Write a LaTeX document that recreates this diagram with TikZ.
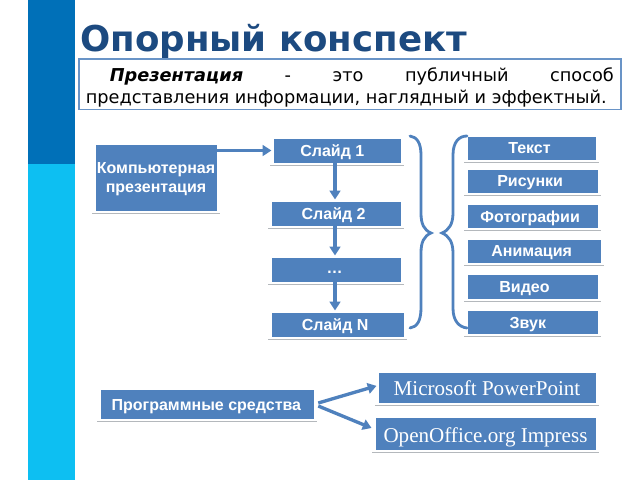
\documentclass[tikz,border=0pt]{standalone}
\usepackage{fontspec}
\setmainfont{Liberation Sans}
\newfontfamily\dejafont{DejaVu Sans}
\newfontfamily\serifont{Liberation Serif}
\usetikzlibrary{arrows.meta}
\definecolor{boxblue}{HTML}{4F81BD}
\definecolor{sidedark}{HTML}{0070B8}
\definecolor{sidelight}{HTML}{0DBFF2}
\definecolor{titleblue}{HTML}{1C4A80}
\definecolor{shadowgrey}{HTML}{B4B8BC}
\tikzset{
  sbox/.style={fill=boxblue,draw=white,line width=0.4pt,inner sep=0pt,text=white,align=center,text depth=0pt,
    font=\fontsize{12}{14.25}\selectfont\bfseries},
  sserif/.style={font=\fontsize{15.8}{18}\serifont},
  under/.style={draw=shadowgrey,line width=1.2pt},
  arr/.style={draw=boxblue,line width=2.5pt,shorten >=1pt,-{Triangle[length=6.5pt,width=8pt]}},
  bracel/.style={draw=boxblue,line width=2.1pt,line cap=round},
}
% \bx[style]{name}{x0}{y0}{x1}{y1}{text offset}{text}
\newcommand{\bx}[8][]{%
  \node[sbox,#1,minimum width={(#5-#3)*0.75pt},minimum height={(#6-#4)*0.75pt}] (#2)
    at ({(#3+#5)/2},{(#4+#6)/2}) {\hspace*{#7pt}#8};
  \draw[under] ([shift={(-2.5,2.2)}]#2.south west) -- ([shift={(2.5,2.2)}]#2.south east);
}
\begin{document}
\begin{tikzpicture}[x=0.75pt,y=-0.75pt]
\useasboundingbox (0,0) rectangle (640,480);
\fill[white] (0,0) rectangle (640,480);
\fill[sidedark] (28,0) rectangle (75,164);
\fill[sidelight] (28,164) rectangle (75,480);
\node[anchor=west,inner sep=0pt,text=titleblue,font=\fontsize{26.7}{30}\dejafont\bfseries] (title) at (80,42) {Опорный конспект};
\node[draw=boxblue!85,line width=1.2pt,fill=white,inner xsep=5.2pt,inner ysep=0pt,text width=396pt,align=justify,
  font=\fontsize{13.3}{16.5}\dejafont,anchor=north west,minimum width=406.5pt,minimum height=38pt] (def) at (78,58)
  {\rule{0pt}{15pt}\hspace*{18pt}\textbf{\textit{Презентация}} - это публичный способ\linebreak представления информации, наглядный и эффектный.};

\coordinate (ax) at (335,0);
\bx{komp}{95}{144}{217}{211}{0}{Компьютерная\\презентация}
\bx{s1}{273}{138}{401}{163}{-7}{Слайд 1}
\bx{s2}{271}{201}{401}{226}{-3.5}{\raisebox{-0.7pt}{Слайд 2}}
\bx{sd}{271}{257}{401}{282}{-2}{\raisebox{-3pt}{…}}
\bx{sn}{271}{312}{404}{337}{-3.5}{\raisebox{-0.7pt}{Слайд N}}
\bx{t1}{467}{136}{596}{160}{-3}{\raisebox{-0.7pt}{Текст}}
\bx{t2}{467}{169}{598}{193}{-3.5}{\raisebox{-0.7pt}{Рисунки}}
\bx{t3}{467}{204}{598}{228}{-3.5}{\raisebox{-0.7pt}{Фотографии}}
\bx{t4}{467}{239}{601}{263}{-3.5}{\raisebox{-0.7pt}{Анимация}}
\bx{t5}{467}{274}{598}{299}{-12}{\raisebox{-0.7pt}{Видео}}
\bx{t6}{467}{310}{598}{334}{-7}{\raisebox{-0.7pt}{Звук}}
\bx{prog}{100}{389}{314}{419}{-1}{\raisebox{-1.5pt}{Программные средства}}
\bx[sserif]{ms}{378}{372}{596}{403}{0}{\raisebox{-0.7pt}{Microsoft PowerPoint}}
\bx[sserif]{oo}{375}{417}{596}{450}{0}{\raisebox{-2pt}{OpenOffice.org Impress}}

\draw[arr] (komp.east |- s1.west) -- (s1.west);
\draw[arr] (s1.south -| ax) -- (s2.north -| ax);
\draw[arr] (s2.south -| ax) -- (sd.north -| ax);
\draw[arr] (sd.south -| ax) -- (sn.north -| ax);
\draw[arr] ([shift={(4,-1)}]prog.east) -- ([yshift=1.5]ms.west);
\draw[arr] ([shift={(4,2)}]prog.east) -- ([shift={(-2,-5)}]oo.west);

\coordinate (bl1) at (410,136);
\coordinate (bl2) at (431,233);
\coordinate (bl3) at (410,328);
\coordinate (br1) at (467,136);
\coordinate (br2) at (442,233);
\coordinate (br3) at (467,328);
\draw[bracel] (bl1) .. controls (417,137) and (421,143) .. (421,155) -- (421,213)
  .. controls (421,224) and (424,230) .. (bl2) .. controls (424,236) and (421,242) .. (421,253) -- (421,308)
  .. controls (421,321) and (417,327) .. (bl3);
\draw[bracel] (br1) .. controls (459,136) and (453,142) .. (453,155) -- (453,213)
  .. controls (453,224) and (449,230) .. (br2) .. controls (449,236) and (453,242) .. (453,253) -- (453,308)
  .. controls (453,321) and (459,327) .. (br3);
\end{tikzpicture}
\end{document}
